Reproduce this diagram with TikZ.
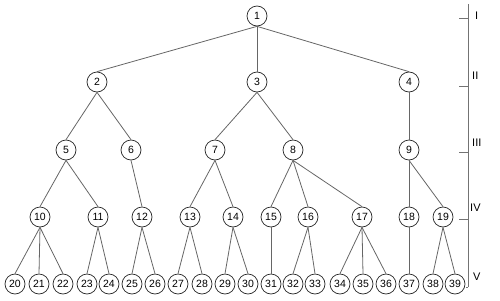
\documentclass[tikz,border=0pt]{standalone}
\usepackage{fontspec}
\setmainfont{Liberation Sans}
\begin{document}
\begin{tikzpicture}[x=1pt,y=-1pt,
  nd/.style={circle,draw=black!85,line width=0.7pt,minimum size=20pt,inner sep=0pt,font=\fontsize{10.5}{11}\selectfont,fill=white},
  edge/.style={draw=black!60,line width=0.8pt},
  scl/.style={draw=black!55,line width=1pt},
  lvl/.style={anchor=west,inner sep=0pt,font=\fontsize{11}{12}\selectfont}]
\useasboundingbox (0,0) rectangle (500,300);
% level 1
\node[nd] (n1) at (257,16) {1};
% level 2
\node[nd] (n2) at (97,82) {2};
\node[nd] (n3) at (257,82) {3};
\node[nd] (n4) at (409,82) {4};
% level 3
\node[nd] (n5) at (66,150) {5};
\node[nd] (n6) at (131,150) {6};
\node[nd] (n7) at (215,150) {7};
\node[nd] (n8) at (293,150) {8};
\node[nd] (n9) at (409,150) {9};
% level 4
\node[nd] (n10) at (40,217) {10};
\node[nd] (n11) at (98,217) {11};
\node[nd] (n12) at (142,217) {12};
\node[nd] (n13) at (190,217) {13};
\node[nd] (n14) at (233,217) {14};
\node[nd] (n15) at (271,217) {15};
\node[nd] (n16) at (308,217) {16};
\node[nd] (n17) at (362,217) {17};
\node[nd] (n18) at (409,217) {18};
\node[nd] (n19) at (443,217) {19};
% level 5
\node[nd] (n20) at (15,284) {20};
\node[nd] (n21) at (39,284) {21};
\node[nd] (n22) at (63,284) {22};
\node[nd] (n23) at (87,284) {23};
\node[nd] (n24) at (109,284) {24};
\node[nd] (n25) at (132,284) {25};
\node[nd] (n26) at (155,284) {26};
\node[nd] (n27) at (178,284) {27};
\node[nd] (n28) at (202,284) {28};
\node[nd] (n29) at (225,284) {29};
\node[nd] (n30) at (248,284) {30};
\node[nd] (n31) at (271,284) {31};
\node[nd] (n32) at (293,284) {32};
\node[nd] (n33) at (315,284) {33};
\node[nd] (n34) at (340,284) {34};
\node[nd] (n35) at (363,284) {35};
\node[nd] (n36) at (386,284) {36};
\node[nd] (n37) at (409,284) {37};
\node[nd] (n38) at (433,284) {38};
\node[nd] (n39) at (455,284) {39};
% edges
\foreach \p/\c in {1/2,1/3,1/4,2/5,2/6,3/7,3/8,4/9,5/10,5/11,6/12,7/13,7/14,8/15,8/16,8/17,9/18,9/19,
  10/20,10/21,10/22,11/23,11/24,12/25,12/26,13/27,13/28,14/29,14/30,15/31,16/32,16/33,17/34,17/35,17/36,18/37,19/38,19/39}
  \draw[edge] (n\p.south) -- (n\c.north);
% level scale
\coordinate (st) at (468,4);
\coordinate (sb) at (468,287);
\draw[scl] (st) -- (sb);
\draw[scl] (459,18) -- (468,18);
\draw[scl] (459,86) -- (468,86);
\draw[scl] (459,152) -- (468,152);
\draw[scl] (459,219) -- (468,219);
\draw[scl] (466,287) -- (468,287);
\node[lvl] (l1) at (475,16) {I};
\node[lvl] (l2) at (472,76) {II};
\node[lvl] (l3) at (472,143) {III};
\node[lvl] (l4) at (470,208) {IV};
\node[lvl] (l5) at (473,277) {V};
\end{tikzpicture}
\end{document}
